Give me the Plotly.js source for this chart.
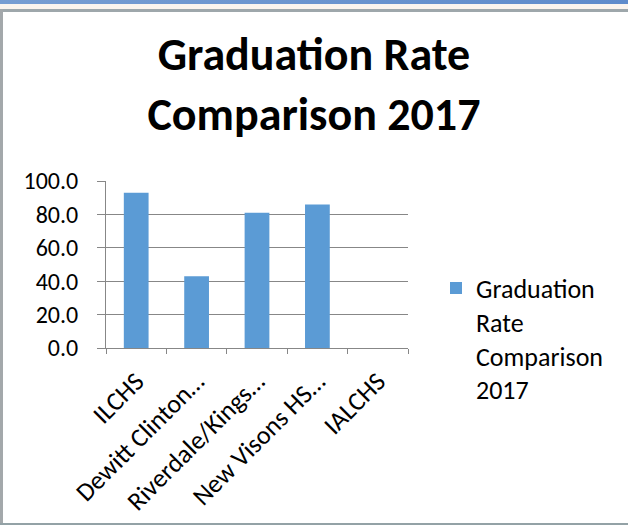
<!DOCTYPE html>
<html>
<head>
<meta charset="utf-8">
<script src="https://cdn.plot.ly/plotly-3.0.1.min.js"></script>
<style>
  html, body { margin: 0; padding: 0; background: #ffffff; }
  #wrap { position: relative; width: 628px; height: 528px; overflow: hidden; background: #ffffff; }
  #chart { position: absolute; left: 0; top: 0; width: 628px; height: 528px; }
  .band { position: absolute; }
</style>
</head>
<body>
<div id="wrap">
  <div class="band" style="left:0;top:0;width:628px;height:4px;background:linear-gradient(to right,#779dd2,#5f8bcb);"></div>
  <div class="band" style="left:0;top:4px;width:628px;height:5px;background:#fbf4ee;"></div>
  <div class="band" style="left:0;top:9px;width:628px;height:3px;background:#9ea7ab;"></div>
  <div class="band" style="left:0;top:9px;width:3px;height:516px;background:#a3a8ab;"></div>
  <div class="band" style="left:0;top:523px;width:628px;height:2px;background:#93a2a6;"></div>
  <div id="chart"></div>
</div>
<script>
const categories = ["ILCHS", "Dewitt Clinton…", "Riverdale/Kings…", "New Visons HS…", "IALCHS"];
const graduationRate = [93.0, 43.0, 81.0, 86.0, null];
const seriesName = "Graduation<br>Rate<br>Comparison<br>2017";
const yTickValues = [0, 20, 40, 60, 80, 100];
const yTickLabels = ["0.0", "20.0", "40.0", "60.0", "80.0", "100.0"];

const FONT = "Carlito, Lato, 'Open Sans', sans-serif";

const trace = {
  type: "bar",
  x: categories,
  y: graduationRate,
  name: seriesName,
  width: 0.41,
  marker: { color: "#5b9bd5" },
  showlegend: true,
  hoverinfo: "x+y"
};

const layout = {
  width: 628,
  height: 528,
  paper_bgcolor: "rgba(0,0,0,0)",
  plot_bgcolor: "rgba(0,0,0,0)",
  margin: { l: 106, r: 220, t: 181, b: 180 },
  font: { family: FONT, color: "#000000" },
  title: {
    text: "<b>Graduation Rate<br>Comparison 2017</b>",
    font: { family: FONT, size: 46, color: "#000000" },
    x: 0.5,
    xref: "container",
    xanchor: "center",
    yref: "container",
    y: 1 - 70 / 528,
    yanchor: "top"
  },
  xaxis: {
    type: "category",
    range: [-0.5, 4.5],
    tickson: "boundaries",
    ticks: "outside",
    ticklen: 5,
    tickcolor: "#878787",
    showline: true,
    linecolor: "#878787",
    linewidth: 1,
    showgrid: false,
    tickangle: -45,
    ticklabelstandoff: 7,
    tickfont: { family: FONT, size: 26, color: "#000000" },
    automargin: false
  },
  yaxis: {
    range: [0, 100],
    tickvals: yTickValues,
    ticktext: yTickLabels,
    ticks: "outside",
    ticklen: 8,
    tickcolor: "#878787",
    showline: true,
    linecolor: "#878787",
    linewidth: 1,
    showgrid: true,
    gridcolor: "#878787",
    gridwidth: 1,
    zeroline: false,
    ticklabelstandoff: 14,
    tickfont: { family: FONT, size: 24, color: "#000000" },
    automargin: false
  },
  showlegend: true,
  legend: {
    x: (436 - 106) / 302,
    xanchor: "left",
    y: 0.5,
    yanchor: "top",
    valign: "top",
    font: { family: FONT, size: 26, color: "#000000" },
    bgcolor: "rgba(0,0,0,0)",
    itemwidth: 30,
    tracegroupgap: 0
  },
  bargap: 0.59
};

Plotly.newPlot("chart", [trace], layout, { displayModeBar: false, staticPlot: true });
</script>
</body>
</html>
